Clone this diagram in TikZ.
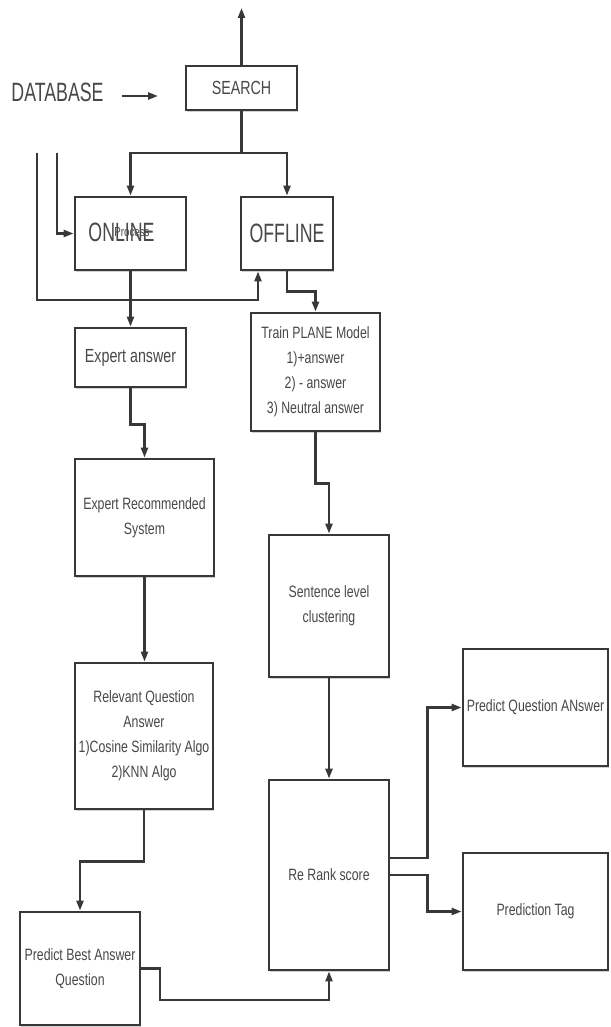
\documentclass[tikz,border=0pt]{standalone}
\usepackage{fontspec}
\setmainfont{Liberation Sans}[FakeStretch=0.75]
\newfontfamily\bigfam{Liberation Sans}[FakeStretch=0.67]
\usetikzlibrary{arrows.meta,shadows,calc}
\definecolor{ln}{HTML}{383838}
\definecolor{tx}{HTML}{484848}
\tikzset{
  box/.style={draw=ln, line width=2.8pt, fill=white, inner sep=0pt, align=center,
    text=tx, font=\fontsize{16.4}{25}\selectfont,
    drop shadow={shadow xshift=1pt, shadow yshift=-2pt, opacity=0.18, fill=black}},
  arr/.style={draw=ln, line width=2.3pt, -{Triangle[length=10pt,width=7pt]}},
  conn/.style={draw=ln, line width=2.3pt},
  lbl/.style={text=tx, inner sep=0pt},
}
\begin{document}
\begin{tikzpicture}[x=1pt,y=-1pt]
\useasboundingbox (0,0) rectangle (610,1027);

% boxes
\node[box, minimum width=111, minimum height=44, font=\fontsize{19}{24}\selectfont] (search) at (241.5,88) {SEARCH};
\node[box, minimum width=111, minimum height=73] (online) at (130.5,233.5) {};
\node[box, minimum width=92, minimum height=73, font=\bigfam\fontsize{26.5}{30}\selectfont] (offline) at (287,233.5) {OFFLINE};
\node[box, minimum width=111, minimum height=59, font=\fontsize{19}{24}\selectfont] (expa) at (130.5,357.5) {Expert answer};
\node[box, minimum width=129, minimum height=118] (train) at (315.5,372) {Train PLANE Model\\1)+answer\\2) - answer\\3) Neutral answer};
\node[box, minimum width=139, minimum height=117] (ers) at (144.5,517.5) {Expert Recommended\\System};
\node[box, minimum width=120, minimum height=142] (sent) at (329,606) {Sentence level\\clustering};
\node[box, minimum width=138, minimum height=146] (rel) at (144,736) {Relevant Question\\Answer\\1)Cosine Similarity Algo\\2)KNN Algo};
\node[box, minimum width=120, minimum height=190] (rerank) at (329,875) {Re Rank score};
\node[box, minimum width=145, minimum height=117] (pqa) at (535.5,707.5) {Predict Question ANswer};
\node[box, minimum width=145, minimum height=117] (ptag) at (535.5,911.5) {Prediction Tag};
\node[box, minimum width=120, minimum height=113] (pba) at (80,968.5) {Predict Best Answer\\Question};

% texts
\node[lbl, font=\bigfam\fontsize{26.5}{30}\selectfont] (db) at (57.5,92) {DATABASE};
\node[lbl, font=\bigfam\fontsize{26.5}{30}\selectfont] (onl) at (121.5,232) {ONLINE};
\node[lbl, font=\fontsize{13}{16}\selectfont] (proc) at (132,232) {Process};

% coordinates
\coordinate (top) at (241.5,8);
\coordinate (dbA) at (122,96);
\coordinate (dbB) at (158,96);
\coordinate (j) at (241.5,153);
\coordinate (L1) at (37,153);
\coordinate (L1b) at (258,300);
\coordinate (L2) at (57,153);
\coordinate (pb1) at (160,1000);

% connectors
\draw[arr] (search.north) -- (top);
\draw[arr] (dbA) -- (dbB);
\draw[conn] (search.south) -- (j);
\draw[arr] (j) -| (online.north);
\draw[arr] (j) -| (offline.north);
\draw[arr] (L1) |- (L1b) -- (L1b |- offline.south);
\draw[arr] (L2) |- (online.west);
\draw[arr] (online.south) -- (expa.north);
\draw[arr] (offline.south) -- ++(0,20) -| (train.north);
\draw[arr] (expa.south) -- ++(0,36) -| (ers.north);
\draw[arr] (ers.south) -- (ers.south |- rel.north);
\draw[arr] (rel.south) -- ++(0,51) -| (pba.north);
\draw[arr] (train.south) -- ++(0,51) -| (sent.north);
\draw[arr] (sent.south) -- (rerank.north);
\draw[arr] (pba.east) -| (pb1) -| (rerank.south);
\draw[arr] ([yshift=17pt]rerank.east) -- ++(37,0) |- (pqa.west);
\draw[arr] (rerank.east) -- ++(37,0) |- (ptag.west);
\end{tikzpicture}
\end{document}
